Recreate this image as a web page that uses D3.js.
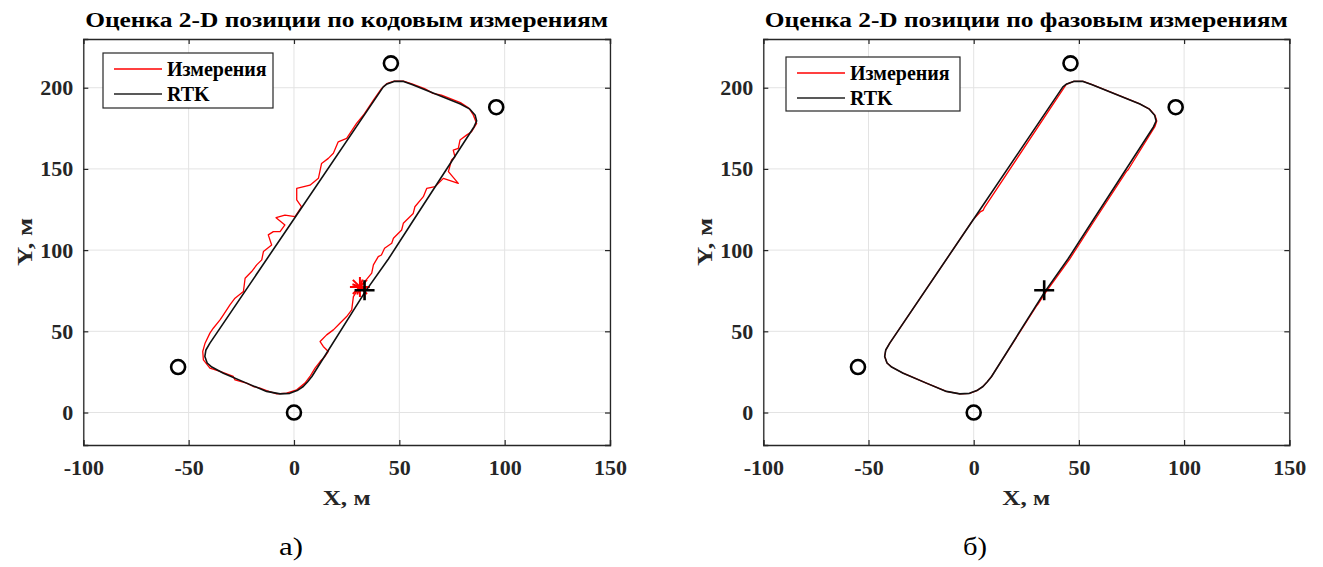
<!DOCTYPE html>
<html>
<head>
<meta charset="utf-8">
<script src="https://cdn.jsdelivr.net/npm/d3@7"></script>
<style>
  body { margin: 0; background: white; }
  svg text { font-family: 'Liberation Serif', 'Times New Roman', serif; }
</style>
</head>
<body>
<svg id="chart" width="1323" height="567"></svg>
<script>
// tick values
const xTicks = [-100, -50, 0, 50, 100, 150];
const yTicks = [0, 50, 100, 150, 200];

// beacons (circles)
const beaconX = [-55, 0, 46, 96];
const beaconY = [28, 0, 215, 188];

// start point (+)
const startX = 33.5;
const startY = 75.3;

// RTK reference track
const rtkX = [33.6, 44.8, 56, 85.5, 86.7, 86, 83.5, 79, 56, 52, 47.5, 44.2, 42.4, 0, -39.9, -41.8, -42.3, -41.2, -39, -33.5, -22.5, -13, -6.6, -2, 1.5, 4.4, 6.5, 8.5, 33.6];
const rtkY = [74, 94.5, 117, 176, 179.5, 183, 186.8, 190, 202, 203.9, 203.9, 202.3, 200.5, 119.2, 42.7, 38.5, 34.5, 30.5, 28, 24.2, 18.1, 13, 11.5, 11.8, 13.5, 16, 19, 22.2, 74];

// code measurements (left)
const codeX = [31.3, 28.2, 27.4, 25, 21.8, 18.7, 15.5, 12.4, 13.9, 16.3, 14.7, 12.4, 10, 7.6, 5.2, 1.3, -3.5, -8.2, -13, -16.1, -19.3, -22.5, -28, -28.8, -35.1, -39.9, -43, -43.3, -42.2, -39.9, -38.3, -35.1, -33.5, -30.4, -28, -24, -23.2, -20.1, -17.7, -15.3, -14.5, -10.6, -12.2, -9.8, -6.6, -4.3, -8.5, -4.3, 0.5, 3.6, 1.3, 1.3, 7.6, 11.6, 13.1, 16.3, 18.7, 21, 25, 29.7, 33, 37.7, 41.6, 44, 47.5, 52, 56, 62, 66, 70, 79, 83, 85.1, 86.7, 84.3, 81.9, 78.8, 78, 75.6, 76.4, 74.8, 73.3, 78, 70.9, 67, 63, 61.4, 57.4, 56.6, 51.9, 51.1, 47.2, 46.4, 43, 41.5, 40, 37.7, 36.9, 33.7, 31.3];
const codeY = [77.6, 71.4, 63.2, 59.1, 55, 50.9, 47.8, 43.7, 40.7, 37.6, 34.5, 31.4, 27.3, 22.2, 18.1, 14, 12, 11.5, 13.5, 15, 16, 18.1, 20.1, 22.2, 25.3, 27.3, 32.4, 37.6, 42.7, 48.9, 51.9, 57, 60.1, 66.3, 70.4, 74.5, 82.7, 86.8, 90.9, 94, 99.1, 103.2, 109.4, 111.4, 111.4, 115.5, 120, 121.6, 120.6, 126.7, 130.9, 138, 140, 144.2, 153.4, 156.5, 159.6, 166.7, 168.8, 178, 183.2, 192.4, 199.6, 202.5, 204, 204, 202.3, 199.5, 196.5, 195.5, 190.8, 187.5, 183.2, 178, 172.9, 170.8, 167.8, 162.6, 161.6, 157.5, 155.5, 148.3, 141.1, 144.2, 139.1, 138, 132.9, 126.7, 122.6, 116.5, 112.4, 107.3, 104.2, 101.1, 97, 96, 90.9, 85.8, 80.7, 77.6];

// phase measurements (right)
const phaseX = [34.2, 45.6, 56.8, 72.6, 73.4, 86.1, 87, 86.2, 83.6, 79, 56, 52, 47.5, 44, 42.8, 5, 4.5, 3.3, 0, -39.9, -41.8, -42.3, -41.2, -39, -33.5, -22.5, -13, -6.6, -2, 1.5, 4.4, 6.5, 8.5, 29.8, 30.4, 34.2];
const phaseY = [74, 94.5, 117, 148.5, 149.5, 176, 179.5, 183, 186.8, 190, 202, 203.9, 203.9, 202, 199.8, 126, 124.5, 123.7, 119.2, 42.7, 38.5, 34.5, 30.5, 28, 24.2, 18.1, 13, 11.5, 11.8, 13.5, 16, 19, 22.2, 65.5, 66.5, 74];

const seriesNames = ["Измерения", "RTK"];

const svg = d3.select("#chart");
const FONT = "'Liberation Serif', 'Times New Roman', serif";

// text widened to match the stretched look of the original figure
function label(sel, x, y, txt, size, bold, width, color) {
  const t = sel.append("text")
    .attr("x", x).attr("y", y)
    .attr("text-anchor", "middle")
    .style("font-family", FONT).style("font-size", size + "px")
    .style("font-weight", bold ? "bold" : "normal")
    .attr("fill", color || "#000")
    .text(txt);
  if (width) t.attr("textLength", width).attr("lengthAdjust", "spacingAndGlyphs");
  return t;
}

function drawPanel(p) {
  const x = d3.scaleLinear().domain([-100, 150]).range([p.left, p.right]);
  const y = d3.scaleLinear().domain([-20, 230]).range([445, 39]);
  const g = svg.append("g");

  // grid
  g.append("g")
    .selectAll("line").data(xTicks).enter().append("line")
    .attr("x1", d => x(d)).attr("x2", d => x(d))
    .attr("y1", y(-20)).attr("y2", y(230))
    .attr("stroke", "#e3e3e3").attr("stroke-width", 1);
  g.append("g")
    .selectAll("line").data(yTicks).enter().append("line")
    .attr("x1", x(-100)).attr("x2", x(150))
    .attr("y1", d => y(d)).attr("y2", d => y(d))
    .attr("stroke", "#e3e3e3").attr("stroke-width", 1);

  // axes, inside ticks on all sides
  const fmt = d => String(d);
  const bottom = g.append("g").attr("transform", "translate(0," + y(-20) + ")")
    .call(d3.axisBottom(x).tickValues(xTicks).tickSize(-5).tickPadding(14).tickFormat(fmt));
  const left = g.append("g").attr("transform", "translate(" + x(-100) + ",0)")
    .call(d3.axisLeft(y).tickValues(yTicks).tickSize(-5).tickPadding(10).tickFormat(fmt));
  const top = g.append("g").attr("transform", "translate(0," + y(230) + ")")
    .call(d3.axisTop(x).tickValues(xTicks).tickSize(-5).tickFormat(""));
  const right = g.append("g").attr("transform", "translate(" + x(150) + ",0)")
    .call(d3.axisRight(y).tickValues(yTicks).tickSize(-5).tickFormat(""));

  [bottom, left, top, right].forEach(a => {
    a.attr("font-family", null);
    a.select(".domain").attr("stroke", "#262626").attr("stroke-width", 1.3);
    a.selectAll(".tick line").attr("stroke", "#262626").attr("stroke-width", 1.2);
    a.selectAll("text")
      .style("font-family", FONT).style("font-size", "22px")
      .style("font-weight", "bold").attr("fill", "#262626");
  });
  bottom.selectAll(".tick text").attr("dy", "0.71em");

  const line = d3.line()
    .x(d => x(d[0]))
    .y(d => y(d[1]))
    .curve(d3.curveLinear);

  // measured
  g.append("path")
    .attr("fill", "none")
    .attr("stroke", "#ff0000")
    .attr("stroke-width", 1.3)
    .attr("stroke-linejoin", "round")
    .attr("d", line(d3.zip(p.measX, p.measY)));

  // red star for code start
  if (p.redStar) {
    const sx = x(p.redStar[0]), sy = y(p.redStar[1]);
    [0, 45, 90, 135, 20, 110].forEach((a, i) => {
      const r = i < 4 ? 10 : 8;
      const rad = a * Math.PI / 180;
      g.append("line")
        .attr("x1", sx - r * Math.cos(rad)).attr("y1", sy - r * Math.sin(rad))
        .attr("x2", sx + r * Math.cos(rad)).attr("y2", sy + r * Math.sin(rad))
        .attr("stroke", "#ff0000").attr("stroke-width", 2);
    });
  }

  // rtk
  g.append("path")
    .attr("fill", "none")
    .attr("stroke", "#111")
    .attr("stroke-width", 1.6)
    .attr("stroke-linejoin", "round")
    .attr("d", line(d3.zip(rtkX, rtkY)));

  // beacons
  g.append("g").selectAll("circle")
    .data(d3.zip(beaconX, beaconY)).enter().append("circle")
    .attr("cx", d => x(d[0])).attr("cy", d => y(d[1]))
    .attr("r", 7)
    .attr("fill", "none").attr("stroke", "#000").attr("stroke-width", 2.6);

  // start +
  const px = x(startX), py = y(startY);
  g.append("path")
    .attr("d", "M" + (px - 10) + "," + py + "H" + (px + 10) + "M" + px + "," + (py - 10) + "V" + (py + 10))
    .attr("stroke", "#000").attr("stroke-width", 2.6);

  // title
  label(g, (p.left + p.right) / 2, 27, p.title, 21, true, 523);

  // axis labels
  label(g, (p.left + p.right) / 2, 505, "X, м", 20, true, 48, "#262626");
  label(g, 0, 0, "Y, м", 20, true, 48, "#262626")
    .attr("x", null).attr("y", null)
    .attr("transform", "translate(" + (p.left - 51) + "," + ((y(-20) + y(230)) / 2) + ") rotate(-90)");

  // legend
  const L = p.legend;
  const lg = g.append("g");
  lg.append("rect")
    .attr("x", L.x).attr("y", L.y).attr("width", L.w).attr("height", L.h)
    .attr("fill", "white").attr("stroke", "#262626").attr("stroke-width", 1.2);
  const colors = ["#ff0000", "#222"];
  seriesNames.forEach((name, i) => {
    const ly = L.y + 16 + i * 25;
    lg.append("line")
      .attr("x1", L.x + 11).attr("x2", L.x + 59)
      .attr("y1", ly).attr("y2", ly)
      .attr("stroke", colors[i]).attr("stroke-width", 1.4);
    lg.append("text")
      .attr("x", L.x + 64).attr("y", ly + 7)
      .style("font-family", FONT).style("font-size", L.fs + "px").style("font-weight", "bold")
      .attr("fill", "#000")
      .text(name);
  });

  // caption
  label(svg, p.captionX, 555, p.caption, 26, false, 24);
}

drawPanel({
  left: 83.3, right: 610,
  title: "Оценка 2-D позиции по кодовым измерениям",
  measX: codeX, measY: codeY,
  redStar: [31.3, 77.3],
  legend: { x: 103, y: 53, w: 170, h: 55, fs: 20 },
  captionX: 291, caption: "а)"
});

drawPanel({
  left: 763.3, right: 1289.3,
  title: "Оценка 2-D позиции по фазовым измерениям",
  measX: phaseX, measY: phaseY,
  redStar: null,
  legend: { x: 786, y: 57, w: 174, h: 54, fs: 20 },
  captionX: 975, caption: "б)"
});
</script>
</body>
</html>
